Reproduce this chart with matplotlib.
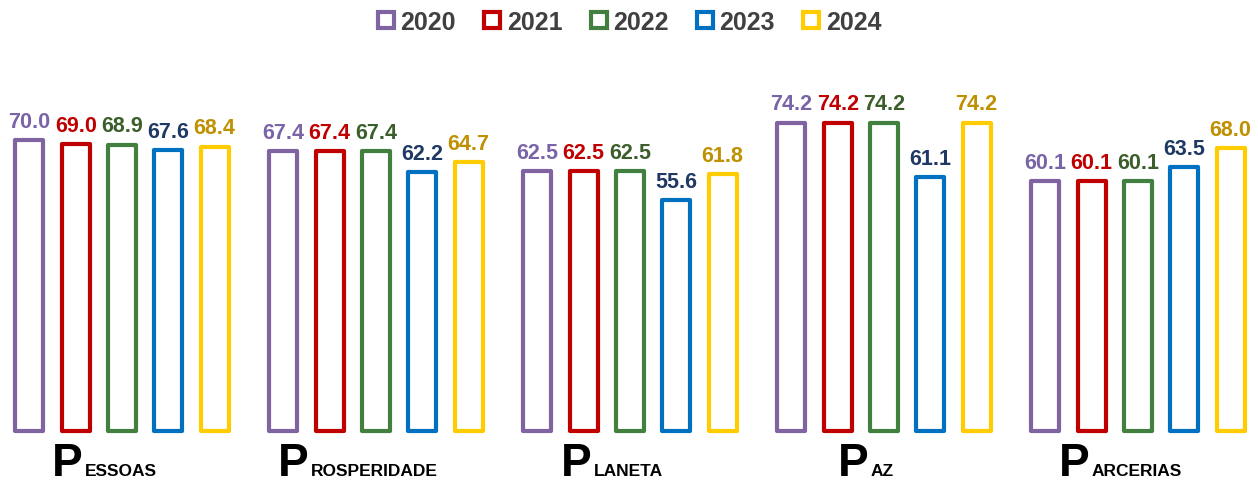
"""
ODS 5P - comparação anual dos índices por dimensão
"""

import matplotlib
matplotlib.use('Agg')
import matplotlib.pyplot as plt
from matplotlib.lines import Line2D
import numpy as np

matplotlib.rcParams['font.family'] = ['Liberation Sans', 'DejaVu Sans']

# dados
CATEGORIAS = ['Pessoas', 'Prosperidade', 'Planeta', 'Paz', 'Parcerias']
ANOS = ['2020', '2021', '2022', '2023', '2024']
V2020 = [70.0, 67.4, 62.5, 74.2, 60.1]
V2021 = [69.0, 67.4, 62.5, 74.2, 60.1]
V2022 = [68.9, 67.4, 62.5, 74.2, 60.1]
V2023 = [67.6, 62.2, 55.6, 61.1, 63.5]
V2024 = [68.4, 64.7, 61.8, 74.2, 68.0]

CORES_BARRA = ['#8064A2', '#C00000', '#41803F', '#0070C0', '#FFCC00']
CORES_ROTULO = ['#7A64A8', '#C00000', '#3B5E2B', '#1F3864', '#BF9000']


def main():
    fig = plt.figure(figsize=(12.58, 4.85), dpi=100)
    ax = fig.add_axes([0, 0.1093, 1, 0.795 - 0.1093])

    series = [V2020, V2021, V2022, V2023, V2024]
    x = np.arange(len(CATEGORIAS))
    passo = 46.3 / 254
    largura = 28 / 254

    for j, (vals, cb, cr) in enumerate(zip(series, CORES_BARRA, CORES_ROTULO)):
        pos = x + (j - 2) * passo
        bars = ax.bar(pos, vals, width=largura, facecolor='white', edgecolor=cb,
                      linewidth=3.0, clip_on=False)
        for b in bars:
            b.set_joinstyle('round')
        for p, v in zip(pos, vals):
            ax.annotate(f'{v:.1f}', xy=(p, v), xytext=(0, 9.5), textcoords='offset points',
                        ha='center', va='baseline', fontsize=15.5, fontweight='bold', color=cr)

    ax.set_xlim(-122 / 254, (1258 - 122) / 254)
    ax.set_ylim(0, 80)
    ax.axis('off')

    # legenda
    handles = [Line2D([], [], marker='s', ls='none', mfc='white', mec=c, mew=3, ms=11)
               for c in CORES_BARRA]
    leg = fig.legend(handles, ANOS, loc='center', bbox_to_anchor=(0.5, 1 - 23 / 485), ncol=5,
                     frameon=False, handlelength=0.75, handletextpad=0.2, columnspacing=1.08,
                     prop={'size': 18, 'weight': 'bold'})
    for t in leg.get_texts():
        t.set_color('#404040')

    # rótulos das categorias: P grande + restante em caixa alta menor
    fig.canvas.draw()
    renderer = fig.canvas.get_renderer()
    W = fig.bbox.width
    base_y = 9 / 485
    for i, nome in enumerate(CATEGORIAS):
        t1 = fig.text(0, base_y, nome[0], fontsize=33, fontweight='bold', color='black',
                      va='baseline', ha='left')
        t2 = fig.text(0, base_y, nome[1:].upper(), fontsize=12.5, fontweight='bold',
                      color='black', va='baseline', ha='left')
        w1 = t1.get_window_extent(renderer).width
        w2 = t2.get_window_extent(renderer).width
        centro = ax.transData.transform((x[i], 0))[0] - 18
        inicio = centro - (w1 + w2 + 2) / 2
        t1.set_x(inicio / W)
        t2.set_x((inicio + w1 + 2) / W)

    plt.savefig('out.png', dpi=100)


if __name__ == '__main__':
    main()
